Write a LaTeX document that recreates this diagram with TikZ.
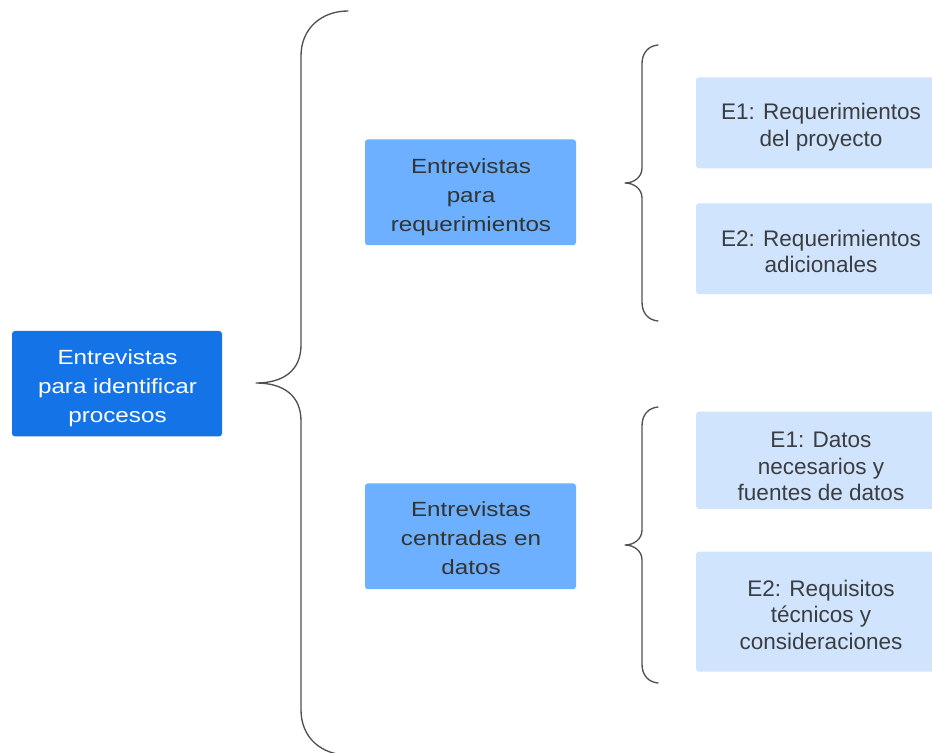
\documentclass[tikz,border=0pt]{standalone}
\usepackage{fontspec}
\setmainfont{Liberation Sans}
\newfontfamily\wideface[FakeStretch=1.18]{Liberation Sans}
\newfontfamily\leafface{Liberation Sans}

\definecolor{rootblue}{HTML}{1473E6}
\definecolor{midblue}{HTML}{6CB0FF}
\definecolor{leafblue}{HTML}{D1E4FD}
\definecolor{inkdark}{HTML}{333333}
\definecolor{inkleaf}{HTML}{3A3D42}
\definecolor{bracegray}{HTML}{505050}

\begin{document}
\begin{tikzpicture}[x=0.75pt, y=-0.75pt,
  panel/.style={rectangle, rounded corners=2.25pt, draw=none, inner sep=0pt},
  rootbox/.style={panel, fill=rootblue, minimum width=157.5pt, minimum height=79.1pt},
  midbox/.style={panel, fill=midblue, minimum width=158.25pt, minimum height=79.4pt},
  leafbox/.style={panel, fill=leafblue, minimum width=187.5pt},
  bigtext/.style={inner sep=0pt, align=center,
    font=\wideface\fontsize{15.4pt}{21.75pt}\selectfont},
  roottext/.style={bigtext, text=white},
  midtext/.style={bigtext, text=inkdark},
  leaftext/.style={inner sep=0pt, align=center, text=inkleaf,
    font=\leafface\fontsize{16.9pt}{20pt}\selectfont},
  brace/.style={draw=bracegray, line width=1pt, line cap=round, line join=round}
]
\useasboundingbox (0,0) rectangle (932,753);

% boxes
\node[rootbox] (root) at (117,383.7) {};
\node[midbox] (req) at (470.5,192.3) {};
\node[midbox] (dat) at (470.5,536.3) {};
\node[leafbox, minimum height=68.25pt] (reqA) at (821,122.8) {};
\node[leafbox, minimum height=68pt] (reqB) at (821,248.7) {};
\node[leafbox, minimum height=73pt] (datA) at (821,460.3) {};
\node[leafbox, minimum height=90pt] (datB) at (821,611.7) {};

% labels
\node[roottext] (rootT) at (117.5,387.8) {Entrevistas\\para identificar\\procesos};
\node[midtext] (reqT) at (471,196.8) {Entrevistas\\para\\requerimientos};
\node[midtext] (datT) at (471,538.1) {Entrevistas\\centradas en\\datos};
\node[leaftext] (reqAT) at (821,127) {E1: Requerimientos\\del proyecto};
\node[leaftext] (reqBT) at (821,251.4) {E2: Requerimientos\\adicionales};
\node[leaftext] (datAT) at (821,466.4) {E1: Datos\\necesarios y\\fuentes de datos};
\node[leaftext] (datBT) at (821,614.8) {E2: Requisitos\\técnicos y\\consideraciones};

% large brace from the root to both groups
\coordinate (bigTop) at (348,11);
\coordinate (bigTip) at (256,383);
\coordinate (bigBot) at (348,755);
\draw[brace] (bigTop) .. controls (322,11) and (301,28) .. (301,56)
  -- (301,345) .. controls (301,370) and (284,383) .. (bigTip)
  .. controls (284,383) and (301,396) .. (301,421)
  -- (301,710) .. controls (301,738) and (322,755) .. (bigBot);

% brace for the requirements group
\coordinate (reqTop) at (658,45);
\coordinate (reqTip) at (625,183);
\coordinate (reqBot) at (658,321);
\draw[brace] (reqTop) .. controls (648,46) and (642,53) .. (642,64)
  -- (642,168) .. controls (642,177) and (634,183) .. (reqTip)
  .. controls (634,183) and (642,189) .. (642,198)
  -- (642,302) .. controls (642,313) and (648,320) .. (reqBot);

% brace for the data group
\coordinate (datTop) at (658,407);
\coordinate (datTip) at (625,545);
\coordinate (datBot) at (658,683);
\draw[brace] (datTop) .. controls (648,408) and (642,415) .. (642,426)
  -- (642,530) .. controls (642,539) and (634,545) .. (datTip)
  .. controls (634,545) and (642,551) .. (642,560)
  -- (642,664) .. controls (642,675) and (648,682) .. (datBot);
\end{tikzpicture}
\end{document}
